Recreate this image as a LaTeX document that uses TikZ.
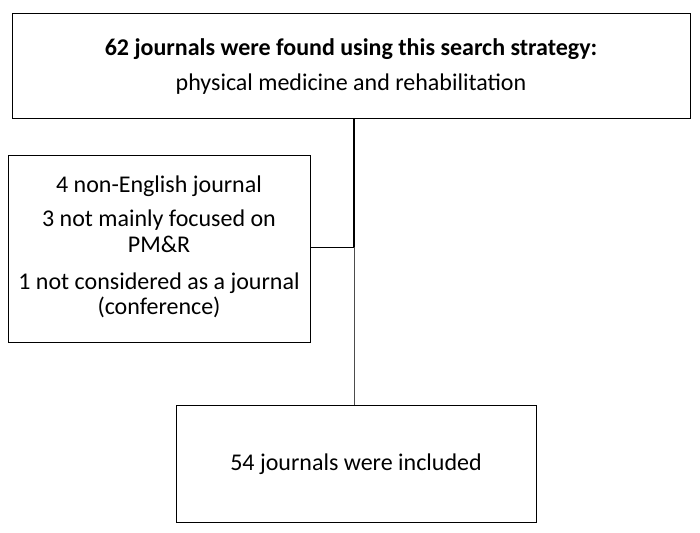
\documentclass[tikz,border=0pt]{standalone}
\usepackage{fontspec}
\setmainfont{Carlito}
\begin{document}
\begin{tikzpicture}[x=1pt,y=-1pt,
  box/.style={draw=black,line width=1pt,fill=white},
  txt/.style={font=\fontsize{24}{28}\selectfont,anchor=center}]
\useasboundingbox (0,0) rectangle (700,532);
\node[box,minimum width=678pt,minimum height=104pt] (top) at (351,66) {};
\node[txt] (t1) at (351,49) {\textbf{62 journals were found using this search strategy:}};
\node[txt] (t2) at (351,84) {physical medicine and rehabilitation};
\node[box,minimum width=302pt,minimum height=187pt] (left) at (159,248.5) {};
\node[txt] (l1) at (159,186) {4 non-English journal};
\node[txt] (l2) at (159,220) {3 not mainly focused on};
\node[txt] (l3) at (159,244) {PM\&R};
\node[txt] (l4) at (159,283) {1 not considered as a journal};
\node[txt] (l5) at (159,307) {(conference)};
\node[box,minimum width=360pt,minimum height=117pt] (bot) at (356,463.5) {};
\node[txt] (b1) at (356,464) {54 journals were included};
\coordinate (j) at (354,247);
\draw[line width=1.2pt] (354,118) -- (j);
\draw[line width=1pt] (left.east |- j) -- (j);
\draw[line width=0.6pt,black!70] (j) -- (354,405);
\end{tikzpicture}
\end{document}
